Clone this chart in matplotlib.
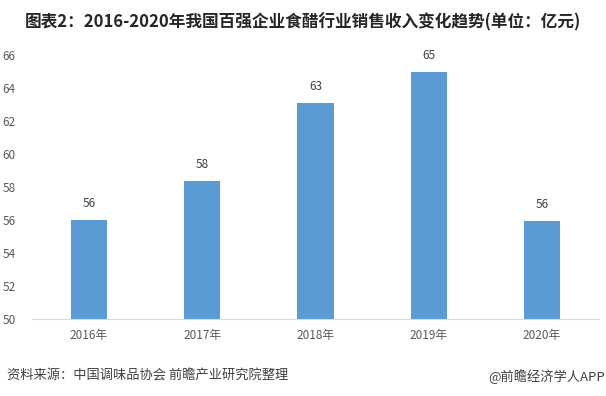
import matplotlib.pyplot as plt
import numpy as np

plt.rcParams['font.family'] = ['Noto Sans CJK SC', 'DejaVu Sans']

# 数据
years = ['2016年', '2017年', '2018年', '2019年', '2020年']
revenue = [56.0, 58.4, 63.1, 65.0, 55.95]

fig = plt.figure(figsize=(6.06, 3.96), dpi=100)
ax = fig.add_axes([0.053, 0.194, 0.935, 0.667])

x = np.arange(len(years))
bars = ax.bar(x, [v - 50 for v in revenue], bottom=50, width=0.32, color='#5B9BD5')

for xi, v in zip(x, revenue):
    ax.text(xi, v + 0.6, f'{v:.0f}', ha='center', va='bottom', fontsize=8.5, color='#404040')

ax.set_xlim(-0.5, len(years) - 0.5)
ax.set_ylim(50, 66)
ax.set_yticks(range(50, 67, 2))
ax.set_xticks(x)
ax.set_xticklabels(years)
ax.tick_params(axis='both', length=0, labelsize=8.5, colors='#595959')
ax.tick_params(axis='y', pad=12)
ax.tick_params(axis='x', pad=7)

for side in ['top', 'right', 'left']:
    ax.spines[side].set_visible(False)
ax.spines['bottom'].set_color('#D9D9D9')

fig.text(0.5, 0.945, '图表2：2016-2020年我国百强企业食醋行业销售收入变化趋势(单位：亿元)',
         ha='center', va='center', fontsize=12, fontweight='bold', color='#262626')
fig.text(0.012, 0.05, '资料来源：中国调味品协会 前瞻产业研究院整理',
         ha='left', va='center', fontsize=9.5, color='#404040')
fig.text(0.998, 0.05, '@前瞻经济学人APP',
         ha='right', va='center', fontsize=9.5, color='#404040')

fig.savefig('out.png', dpi=100)
